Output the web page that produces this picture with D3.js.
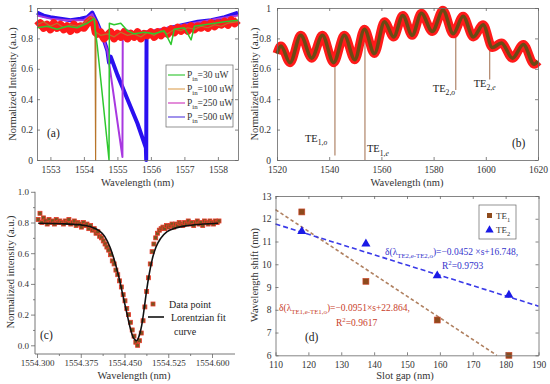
<!DOCTYPE html>
<html><head><meta charset="utf-8">
<script src="https://cdn.jsdelivr.net/npm/d3@7"></script>
<style>body{margin:0;background:#fff}svg{display:block;font-family:"Liberation Serif","Times New Roman",serif}</style>
</head><body><svg id="c" width="550" height="384"></svg>
<script>
// ---------- Panel (a) data ----------
const aTicksX = [1553,1554,1555,1556,1557,1558];
const aTicksY = [0,0.2,0.4,0.6,0.8,1];
const aLegendLabels = ["30 uW","100 uW","250 uW","500 uW"];
const aLegendColors = ["#3cc83c","#e0a860","#d040c0","#6048e0"];
// background noisy red trace
const aRawWl  = [1552.6,1552.7,1552.8,1552.9,1553.0,1553.1,1553.2,1553.3,1553.4,1553.5,1553.6,1553.7,1553.8,1553.9,1554.0,1554.1,1554.2,1554.3,1554.35,1554.4,1554.5,1554.6,1554.7,1554.8,1554.9,1555.0,1555.1,1555.2,1555.3,1555.4,1555.5,1555.6,1555.7,1555.8,1555.9,1556.0,1556.1,1556.2,1556.3,1556.4,1556.5,1556.6,1556.7,1556.8,1556.9,1557.0,1557.1,1557.2,1557.3,1557.4,1557.5,1557.6,1557.7,1557.8,1557.9,1558.0,1558.1,1558.2,1558.3,1558.4,1558.5,1558.6];
const aRawInt = [0.88,0.9,0.87,0.89,0.86,0.9,0.87,0.89,0.86,0.88,0.85,0.89,0.86,0.88,0.87,0.9,0.92,0.9,0.84,0.83,0.84,0.8,0.82,0.84,0.8,0.83,0.81,0.84,0.8,0.83,0.81,0.84,0.8,0.83,0.82,0.84,0.81,0.84,0.82,0.85,0.83,0.86,0.84,0.87,0.85,0.87,0.85,0.88,0.86,0.88,0.87,0.89,0.87,0.9,0.88,0.9,0.89,0.91,0.89,0.92,0.9,0.92];
const a30Wl  = [1552.6,1552.9,1553.2,1553.5,1553.8,1554.1,1554.3,1554.4,1554.75,1554.76,1554.9,1555.1,1555.3,1555.5,1555.8,1556.1,1556.4,1556.6,1556.7,1557.0,1557.2,1557.3,1557.6,1557.9,1558.2,1558.6];
const a30Int = [0.87,0.88,0.86,0.88,0.87,0.9,0.93,0.75,0.0,0.9,0.89,0.9,0.85,0.83,0.84,0.83,0.85,0.76,0.86,0.87,0.79,0.88,0.89,0.9,0.91,0.92];
const a100Wl  = [1552.6,1552.8,1553.0,1553.2,1553.4,1553.6,1553.8,1554.0,1554.2,1554.33,1554.35,1554.36,1554.5,1554.7,1554.9,1555.1,1555.3,1555.5,1555.7,1555.9,1556.1,1556.3,1556.5,1556.7,1556.9,1557.1,1557.3,1557.5,1557.7,1557.9,1558.1,1558.3,1558.6];
const a100Int = [0.89,0.91,0.88,0.9,0.87,0.89,0.88,0.9,0.94,0.93,0.0,0.84,0.82,0.83,0.81,0.84,0.82,0.83,0.81,0.84,0.82,0.85,0.83,0.86,0.85,0.87,0.86,0.88,0.87,0.89,0.88,0.9,0.91];
const a250Wl  = [1552.6,1553.0,1553.5,1554.0,1554.25,1554.5,1554.7,1555.15,1555.16,1555.5,1556.0,1556.5,1557.0,1557.5,1558.0,1558.6];
const a250Int = [0.95,0.93,0.92,0.92,0.96,0.85,0.72,0.02,0.86,0.84,0.85,0.87,0.89,0.91,0.93,0.95];
const a500Wl  = [1552.6,1552.8,1553.0,1553.3,1553.6,1553.9,1554.1,1554.25,1554.4,1554.55,1554.7,1554.75,1554.8,1555.0,1555.3,1555.6,1555.85,1555.86,1555.87,1556.0,1556.3,1556.6,1557.0,1557.4,1557.8,1558.2,1558.6];
const a500Int = [0.97,0.95,0.94,0.93,0.92,0.93,0.94,0.97,0.9,0.82,0.72,0.64,0.68,0.56,0.4,0.24,0.08,0.0,0.82,0.83,0.85,0.87,0.89,0.91,0.92,0.94,0.97];

// ---------- Panel (b) data ----------
const bTicksX = [1520,1540,1560,1580,1600,1620];
const bTicksY = [0,0.2,0.4,0.6,0.8,1];
const bWl  = [1520,1521.5,1525,1529.1,1533.3,1537.4,1541.7,1545.8,1549.8,1553.5,1557.3,1561.2,1564.7,1568.2,1571.8,1575.3,1579.5,1583.6,1587.5,1591.3,1595.2,1599,1602.5,1606,1610.2,1614.4,1618.5,1620];
const bInt = [0.70,0.75,0.64,0.82,0.67,0.82,0.64,0.82,0.66,0.86,0.70,0.91,0.81,0.95,0.82,0.965,0.845,0.985,0.83,0.945,0.81,0.89,0.74,0.77,0.67,0.76,0.63,0.65];
const bDipWl  = [1542.2,1553.7,1588.5,1601.5];
const bDipTop = [0.66,0.84,0.84,0.80];
const bDipMin = [0.03,0.0,0.46,0.53];
const bDipNames = [["1,","o"],["1,","e"],["2,","o"],["2,","e"]];

// ---------- Panel (c) data ----------
const cTicksX = [1554.300,1554.375,1554.450,1554.525,1554.600];
const cTicksY = [0,0.2,0.4,0.6,0.8,1.0];
const cWl = [1554.3020,1554.3051,1554.3082,1554.3113,1554.3144,1554.3175,1554.3206,1554.3237,1554.3268,1554.3299,1554.3330,1554.3361,1554.3392,1554.3423,1554.3454,1554.3485,1554.3516,1554.3547,1554.3578,1554.3609,1554.3640,1554.3671,1554.3702,1554.3733,1554.3764,1554.3795,1554.3826,1554.3857,1554.3888,1554.3919,1554.3950,1554.3981,1554.4012,1554.4043,1554.4074,1554.4105,1554.4136,1554.4167,1554.4198,1554.4229,1554.4260,1554.4291,1554.4322,1554.4353,1554.4384,1554.4415,1554.4446,1554.4477,1554.4508,1554.4539,1554.4570,1554.4601,1554.4632,1554.4663,1554.4694,1554.4725,1554.4756,1554.4787,1554.4818,1554.4849,1554.4880,1554.4911,1554.4942,1554.4973,1554.5004,1554.5035,1554.5066,1554.5097,1554.5128,1554.5159,1554.5190,1554.5221,1554.5252,1554.5283,1554.5314,1554.5345,1554.5376,1554.5407,1554.5438,1554.5469,1554.5500,1554.5531,1554.5562,1554.5593,1554.5624,1554.5655,1554.5686,1554.5717,1554.5748,1554.5779,1554.5810,1554.5841,1554.5872,1554.5903,1554.5934,1554.5965,1554.5996,1554.6027,1554.6058,1554.6089,1554.6120];
const cInt = [0.82,0.86,0.80,0.83,0.81,0.79,0.82,0.80,0.81,0.79,0.82,0.80,0.81,0.80,0.79,0.81,0.80,0.82,0.79,0.80,0.81,0.78,0.80,0.79,0.77,0.80,0.78,0.79,0.76,0.78,0.75,0.76,0.73,0.74,0.71,0.70,0.68,0.66,0.64,0.62,0.59,0.55,0.53,0.49,0.46,0.42,0.38,0.33,0.29,0.24,0.20,0.15,0.10,0.06,0.02,0.00,0.03,0.08,0.16,0.25,0.35,0.44,0.53,0.61,0.66,0.70,0.73,0.75,0.76,0.77,0.76,0.78,0.77,0.78,0.79,0.77,0.79,0.78,0.80,0.79,0.78,0.80,0.79,0.81,0.79,0.80,0.78,0.80,0.81,0.79,0.80,0.78,0.81,0.80,0.79,0.81,0.80,0.79,0.81,0.80,0.81];
const cFitWl  = [1554.302,1554.343,1554.374,1554.392,1554.407,1554.416,1554.425,1554.433,1554.440,1554.447,1554.454,1554.460,1554.465,1554.471,1554.475,1554.4795,1554.4838,1554.488,1554.4922,1554.4975,1554.504,1554.5127,1554.523,1554.5384,1554.559,1554.5847,1554.6104];
const cFitInt = [0.795,0.792,0.785,0.772,0.745,0.71,0.64,0.55,0.45,0.33,0.21,0.11,0.05,0.03,0.06,0.13,0.24,0.36,0.46,0.56,0.64,0.70,0.74,0.765,0.78,0.79,0.795];

// ---------- Panel (d) data ----------
const dTicksX = [110,120,130,140,150,160,170,180,190];
const dTicksY = [6,7,8,9,10,11,12,13];
const dGap = [118,137.5,159.2,181];
const dTE1 = [12.3,9.25,7.55,6.0];
const dTE2 = [11.45,10.9,9.5,8.65];
const dFit1Gap = [110,177.3], dFit1Shift = [12.40,6.0];
const dFit2Gap = [110,190],   dFit2Shift = [11.77,8.16];

// ---------- drawing ----------
const svg = d3.select("#c");
const AX = "#666", TXT = "#333";

function rich(g, x, y, parts, size, color, anchor) {
  const t = g.append("text").attr("x", x).attr("y", y).attr("font-size", size)
    .attr("fill", color).attr("text-anchor", anchor || "start");
  let cur = 0;
  parts.forEach(p => {
    const off = p.sub ? size * 0.3 : p.sup ? -size * 0.4 : 0;
    const ts = t.append("tspan").attr("dy", off - cur).text(p.t);
    if (p.sub || p.sup) ts.attr("font-size", size * 0.72);
    if (p.it) ts.attr("font-style", "italic");
    cur = off;
  });
  return t;
}
function styleAxis(sel) {
  sel.attr("font-family", null).attr("font-size", 9.5);
  sel.selectAll(".domain,.tick line").attr("stroke", AX).attr("stroke-width", 0.8);
  sel.selectAll("text").attr("fill", TXT);
}
function boxAxes(g, x, y, xt, yt, xf, yf, lpad) {
  const [xa, xb] = x.range(), [ya, yb] = y.range();
  g.append("g").attr("transform", `translate(0,${ya})`)
    .call(d3.axisBottom(x).tickValues(xt).tickFormat(xf).tickSizeInner(-3).tickSizeOuter(0).tickPadding(6)).call(styleAxis);
  g.append("g").attr("transform", `translate(0,${yb})`)
    .call(d3.axisTop(x).tickValues(xt).tickFormat("").tickSizeInner(-3).tickSizeOuter(0)).call(styleAxis);
  g.append("g").attr("transform", `translate(${xa},0)`)
    .call(d3.axisLeft(y).tickValues(yt).tickFormat(yf).tickSizeInner(-3).tickSizeOuter(0).tickPadding(lpad || 4)).call(styleAxis);
  g.append("g").attr("transform", `translate(${xb},0)`)
    .call(d3.axisRight(y).tickValues(yt).tickFormat("").tickSizeInner(-3).tickSizeOuter(0)).call(styleAxis);
}
function title(g, txt, x, y, rot) {
  const t = g.append("text").attr("font-size", 10.5).attr("fill", TXT).attr("text-anchor", "middle").text(txt);
  if (rot) t.attr("transform", `translate(${x},${y}) rotate(-90)`);
  else t.attr("x", x).attr("y", y);
  return t;
}

// ===== Panel (a) =====
{
  const g = svg.append("g");
  const x = d3.scaleLinear().domain([1552.6, 1558.6]).range([37, 238]);
  const y = d3.scaleLinear().domain([0, 1]).range([160, 8]);
  const line = d3.line().x(d => x(d[0])).y(d => y(d[1]));
  const series = [
    {wl: a500Wl, v: a500Int, c: "#2a10f0", w: 4},
    {wl: a250Wl, v: a250Int, c: "#a838e0", w: 2},
    {wl: aRawWl, v: aRawInt, c: "#ff1a1a", w: 8},
    {wl: a100Wl, v: a100Int, c: "#b8752a", w: 1.2},
    {wl: a30Wl,  v: a30Int,  c: "#2ec82e", w: 1.5}
  ];
  series.forEach(s => {
    g.append("path").datum(s.wl.map((w, i) => [w, s.v[i]])).attr("d", line)
      .attr("fill", "none").attr("stroke", s.c).attr("stroke-width", s.w).attr("stroke-linejoin", "round");
  });
  boxAxes(g, x, y, aTicksX, aTicksY, d3.format("d"), d => String(d));
  // legend
  const lg = g.append("g");
  lg.append("rect").attr("x", 166).attr("y", 65).attr("width", 67).attr("height", 62)
    .attr("fill", "#fff").attr("stroke", AX).attr("stroke-width", 0.7);
  aLegendLabels.forEach((lab, i) => {
    const yy = 75 + i * 14;
    lg.append("line").attr("x1", 168).attr("x2", 185).attr("y1", yy).attr("y2", yy)
      .attr("stroke", aLegendColors[i]).attr("stroke-width", 1.2);
    rich(lg, 187, yy + 3, [{t: "P"}, {t: "in", sub: true}, {t: "=" + lab}], 9.5, TXT);
  });
  g.append("text").attr("x", 47).attr("y", 137).attr("font-size", 11.5).attr("fill", "#222").text("(a)");
  title(g, "Wavelength (nm)", 137.5, 186);
  title(g, "Normalized Intensity (a.u.)", 16, 84, true);
}

// ===== Panel (b) =====
{
  const g = svg.append("g");
  const x = d3.scaleLinear().domain([1520, 1620]).range([277, 538]);
  const y = d3.scaleLinear().domain([0, 1]).range([160, 8]);
  bDipWl.forEach((w, i) => {
    g.append("line").attr("x1", x(w)).attr("x2", x(w)).attr("y1", y(bDipTop[i])).attr("y2", y(bDipMin[i]))
      .attr("stroke", "#a8785a").attr("stroke-width", 1.1);
  });
  const line = d3.line().x(d => x(d[0])).y(d => y(d[1])).curve(d3.curveMonotoneX);
  const pts = bWl.map((w, i) => [w, bInt[i]]);
  g.append("path").datum(pts).attr("d", line).attr("fill", "none").attr("stroke", "#ff1a1a").attr("stroke-width", 9).attr("stroke-linejoin", "round");
  g.append("path").datum(pts).attr("d", line).attr("fill", "none").attr("stroke", "#6b4a14").attr("stroke-width", 3.5).attr("stroke-linejoin", "round");
  boxAxes(g, x, y, bTicksX, bTicksY, d3.format("d"), d => String(d), 6);
  // dip labels
  const lp = [[-30, 0.12], [2, 0.05], [-23, 0.45], [-16, 0.48]];
  bDipWl.forEach((w, i) => {
    rich(g, x(w) + lp[i][0], y(lp[i][1]), [{t: "TE"}, {t: bDipNames[i][0], sub: true}, {t: bDipNames[i][1], sub: true, it: true}], 10.5, "#222");
  });
  g.append("text").attr("x", 512).attr("y", 147).attr("font-size", 11.5).attr("fill", "#222").text("(b)");
  title(g, "Wavelength (nm)", 407, 186);
  title(g, "Normalized intensity (a.u.)", 258, 84, true);
}

// ===== Panel (c) =====
{
  const g = svg.append("g");
  const x = d3.scaleLinear().domain([1554.3, 1554.6]).range([37, 212]);
  const y = d3.scaleLinear().domain([0, 1]).range([345.3, 191.8]);
  const ax0 = 35, ay0 = 354, axEnd = 235;
  g.append("g").selectAll("rect").data(cWl.map((w, i) => [w, cInt[i]])).join("rect")
    .attr("x", d => x(d[0]) - 2).attr("y", d => y(d[1]) - 2).attr("width", 4).attr("height", 4)
    .attr("fill", "#7a5520").attr("stroke", "#e8392a").attr("stroke-width", 0.8);
  const line = d3.line().x(d => x(d[0])).y(d => y(d[1])).curve(d3.curveMonotoneX);
  g.append("path").datum(cFitWl.map((w, i) => [w, cFitInt[i]])).attr("d", line)
    .attr("fill", "none").attr("stroke", "#111").attr("stroke-width", 1.6);
  const bx = g.append("g").attr("transform", `translate(0,${ay0})`)
    .call(d3.axisBottom(x).tickValues(cTicksX).tickFormat(d3.format(".3f")).tickSizeInner(4).tickSizeOuter(0).tickPadding(2));
  styleAxis(bx); bx.select(".domain").remove(); bx.attr("font-size", 9);
  const bxm = g.append("g").attr("transform", `translate(0,${ay0})`)
    .call(d3.axisBottom(x).tickValues([1554.3375, 1554.4125, 1554.4875, 1554.5625]).tickFormat("").tickSizeInner(2).tickSizeOuter(0));
  styleAxis(bxm); bxm.select(".domain").remove();
  const ly = g.append("g").attr("transform", `translate(${ax0},0)`)
    .call(d3.axisLeft(y).tickValues(cTicksY).tickFormat(d3.format(".1f")).tickSizeInner(4).tickSizeOuter(0).tickPadding(2));
  styleAxis(ly); ly.select(".domain").remove(); ly.attr("font-size", 9);
  const lym = g.append("g").attr("transform", `translate(${ax0},0)`)
    .call(d3.axisLeft(y).tickValues([0.1, 0.3, 0.5, 0.7, 0.9]).tickFormat("").tickSizeInner(2).tickSizeOuter(0));
  styleAxis(lym); lym.select(".domain").remove();
  g.append("path").attr("d", `M${ax0},${y(1)}V${ay0}H${axEnd}`).attr("fill", "none").attr("stroke", AX).attr("stroke-width", 0.9);
  // legend
  g.append("rect").attr("x", 151).attr("y", 302).attr("width", 4).attr("height", 4)
    .attr("fill", "#7a5520").attr("stroke", "#e8392a").attr("stroke-width", 0.8);
  g.append("text").attr("x", 169).attr("y", 308).attr("font-size", 10).attr("fill", "#222").text("Data point");
  g.append("line").attr("x1", 148).attr("x2", 164).attr("y1", 317).attr("y2", 317).attr("stroke", "#111").attr("stroke-width", 1.6);
  g.append("text").attr("x", 171).attr("y", 321).attr("font-size", 10).attr("fill", "#222").text("Lorentzian fit");
  g.append("text").attr("x", 174).attr("y", 335).attr("font-size", 10).attr("fill", "#222").text("curve");
  g.append("text").attr("x", 40).attr("y", 339).attr("font-size", 11.5).attr("fill", "#222").text("(c)");
  title(g, "Wavelength (nm)", 134, 379);
  title(g, "Normalized intensity (a.u.)", 14, 272, true);
}

// ===== Panel (d) =====
{
  const g = svg.append("g");
  const x = d3.scaleLinear().domain([110, 190]).range([275.5, 538.5]);
  const y = d3.scaleLinear().domain([6, 13]).range([355.3, 196]);
  const line = d3.line().x(d => x(d[0])).y(d => y(d[1]));
  g.append("path").datum(dFit1Gap.map((v, i) => [v, dFit1Shift[i]])).attr("d", line)
    .attr("stroke", "#b08060").attr("stroke-width", 1.6).attr("stroke-dasharray", "3.5,2.5").attr("fill", "none");
  g.append("path").datum(dFit2Gap.map((v, i) => [v, dFit2Shift[i]])).attr("d", line)
    .attr("stroke", "#3a3ae8").attr("stroke-width", 1.6).attr("stroke-dasharray", "5,3").attr("fill", "none");
  const tri = d3.symbol().type(d3.symbolTriangle).size(36);
  g.append("g").selectAll("path").data(dGap.map((v, i) => [v, dTE2[i]])).join("path")
    .attr("d", tri).attr("transform", d => `translate(${x(d[0])},${y(d[1])})`).attr("fill", "#1a1ae6");
  g.append("g").selectAll("rect").data(dGap.map((v, i) => [v, dTE1[i]])).join("rect")
    .attr("x", d => x(d[0]) - 3).attr("y", d => y(d[1]) - 3).attr("width", 6).attr("height", 6)
    .attr("fill", "#8e4a1c").attr("stroke", "#d04a30").attr("stroke-width", 0.6);
  boxAxes(g, x, y, dTicksX, dTicksY, d3.format("d"), d3.format("d"));
  g.append("rect").attr("x", 479).attr("y", 205).attr("width", 37).attr("height", 34)
    .attr("fill", "#fff").attr("stroke", AX).attr("stroke-width", 0.7);
  g.append("rect").attr("x", 487).attr("y", 213).attr("width", 5).attr("height", 5).attr("fill", "#8e4a1c");
  rich(g, 496, 219, [{t: "TE"}, {t: "1", sub: true}], 9, TXT);
  g.append("path").attr("d", d3.symbol().type(d3.symbolTriangle).size(30)).attr("transform", "translate(489.5,230)").attr("fill", "#1a1ae6");
  rich(g, 496, 233, [{t: "TE"}, {t: "2", sub: true}], 9, TXT);
  rich(g, 385, 255, [{t: "δ(λ"}, {t: "TE2,e-TE2,o", sub: true}, {t: ")=−0.0452 ×s+16.748,"}], 9.5, "#3333cc");
  rich(g, 442, 269, [{t: "R"}, {t: "2", sup: true}, {t: "=0.9793"}], 9.5, "#3333cc");
  rich(g, 279, 311, [{t: "δ(λ"}, {t: "TE1,e-TE1,o", sub: true}, {t: ")=−0.0951×s+22.864,"}], 9.5, "#c8402a");
  rich(g, 336, 326, [{t: "R"}, {t: "2", sup: true}, {t: "=0.9617"}], 9.5, "#c8402a");
  g.append("text").attr("x", 305).attr("y", 341).attr("font-size", 11.5).attr("fill", "#222").text("(d)");
  title(g, "Slot gap (nm)", 405, 379);
  title(g, "Wavelength shift (nm)", 258, 275, true);
}
</script></body></html>
